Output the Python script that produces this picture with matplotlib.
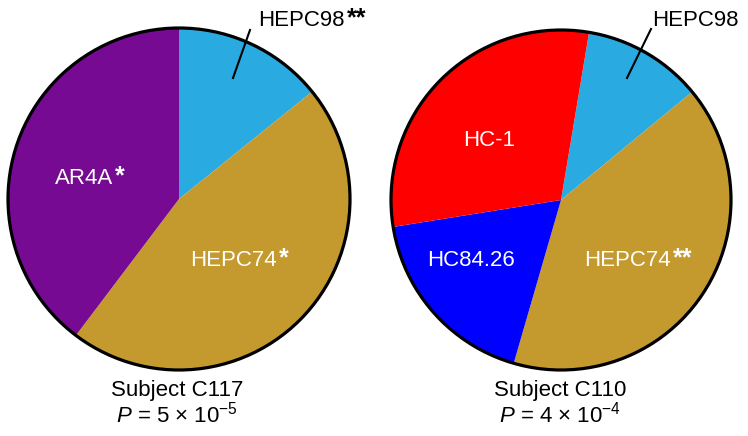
import matplotlib.pyplot as plt
from matplotlib.patches import Circle

plt.rcParams['font.family'] = ['Liberation Sans', 'DejaVu Sans']
plt.rcParams['mathtext.fontset'] = 'custom'
plt.rcParams['mathtext.rm'] = 'Liberation Sans'
plt.rcParams['mathtext.it'] = 'Liberation Sans:italic'

# subject C117 (clockwise from 12 o'clock)
c117_labels = ['HEPC98', 'HEPC74', 'AR4A']
c117_stars = ['**', '*', '*']
c117_values = [14.2, 46.1, 39.7]
c117_colors = ['#29abe2', '#c49a2f', '#760a93']

# subject C110
c110_labels = ['HEPC98', 'HEPC74', 'HC84.26', 'HC-1']
c110_stars = ['', '**', '', '']
c110_values = [11.4, 40.5, 18.0, 30.2]
c110_colors = ['#29abe2', '#c49a2f', '#0000ff', '#ff0000']

titles = ['Subject C117', 'Subject C110']
pvals = [r'$\mathit{P}$ = 5 × 10$^{-5}$', r'$\mathit{P}$ = 4 × 10$^{-4}$']

W, H = 748, 436
fig = plt.figure(figsize=(W / 100, H / 100), dpi=100)
ax = fig.add_axes([0, 0, 1, 1])

fs = 16


def lab(x, y, s, stars, color):
    t = ax.text(x, H - y, s, fontsize=fs, color=color, ha='left', va='baseline')
    if stars:
        ax.annotate(stars, xy=(1, 0), xycoords=t, xytext=(1.5, 0.5), textcoords='offset points',
                    fontsize=fs + 2, fontweight='bold', color=color, ha='left', va='bottom')


# left pie
cx, cy, r = 179, H - 199, 171
ax.pie(c117_values, colors=c117_colors, startangle=90, counterclock=False,
       center=(cx, cy), radius=r, wedgeprops=dict(linewidth=0), frame=True)
ax.add_patch(Circle((cx, cy), r, fill=False, ec='black', lw=2.3, zorder=5))

# right pie
cx2, cy2, r2 = 561, H - 200, 170
ax.pie(c110_values, colors=c110_colors, startangle=80.5, counterclock=False,
       center=(cx2, cy2), radius=r2, wedgeprops=dict(linewidth=0), frame=True)
ax.add_patch(Circle((cx2, cy2), r2, fill=False, ec='black', lw=2.3, zorder=5))

ax.set_xlim(0, W)
ax.set_ylim(0, H)
ax.set_aspect('equal')
ax.axis('off')

# leader lines
ax.plot([233, 250], [H - 78, H - 30], color='black', lw=1.5)
ax.plot([627, 651], [H - 78, H - 29], color='black', lw=1.5)

lab(258, 26, c117_labels[0], c117_stars[0], 'black')
lab(190, 266, c117_labels[1], c117_stars[1], 'white')
lab(55, 184, c117_labels[2], c117_stars[2], 'white')

lab(652, 26, c110_labels[0], c110_stars[0], 'black')
lab(584, 266, c110_labels[1], c110_stars[1], 'white')
lab(427, 266, c110_labels[2], c110_stars[2], 'white')
lab(463, 146, c110_labels[3], c110_stars[3], 'white')

for x, t, p in zip([177, 560], titles, pvals):
    ax.text(x, H - 396, t, fontsize=fs, ha='center', va='baseline')
    ax.text(x, H - 423, p, fontsize=fs, ha='center', va='baseline')

fig.savefig('out.png', dpi=100)
